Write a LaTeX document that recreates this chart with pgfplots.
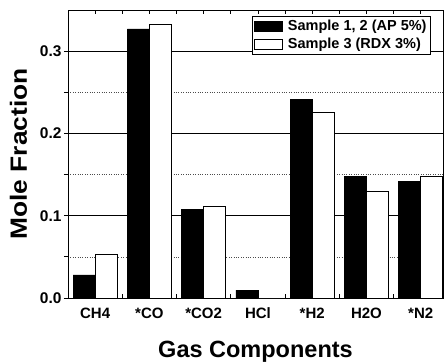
\documentclass[border=0pt]{standalone}
\usepackage{fontspec}
\setmainfont{Liberation Sans}
\usepackage{graphicx}
\usepackage{pgfplots}
\pgfplotsset{compat=1.18}
\begin{document}
\begin{tikzpicture}
\useasboundingbox (-68pt,-64pt) rectangle (377pt,298pt);
\begin{axis}[
  scale only axis,
  width=375pt, height=288pt,
  xmin=-0.5, xmax=6.41,
  ymin=0, ymax=0.35,
  ybar=0pt, bar width=22pt,
  xtick={0,1,2,3,4,5,6},
  xticklabels={CH4,*CO,*CO2,HCl,*H2,H2O,*N2},
  minor xtick={-0.5,0.5,1.5,2.5,3.5,4.5,5.5,6.5},
  xtick pos=both,
  ytick={0,0.1,0.2,0.3},
  minor ytick={0.05,0.15,0.25},
  ytick pos=left,
  tick align=inside,
  major tick length=4pt, minor tick length=4pt,
  y tick style={xshift=-4pt},
  ymajorgrids, yminorgrids,
  major grid style={black, line width=0.6pt},
  minor grid style={black!70, dotted, line width=0.6pt},
  axis line style={line width=0.9pt},
  tick style={black, line width=0.8pt},
  /pgf/number format/assume math mode=true,
  yticklabel style={/pgf/number format/fixed, /pgf/number format/fixed zerofill, /pgf/number format/precision=1, font=\bfseries\fontsize{15.5}{17}\selectfont, xshift=-3pt},
  xticklabel style={font=\bfseries\fontsize{15}{17}\selectfont, yshift=-6pt},
  xlabel={Gas Components},
  ylabel={\scalebox{1.12}[1]{Mole Fraction}},
  xlabel style={font=\bfseries\fontsize{23.5}{26}\selectfont, yshift=-16pt},
  ylabel style={font=\bfseries\fontsize{23.5}{26}\selectfont, yshift=6pt},
  legend style={at={(0.49,0.98)}, anchor=north west, draw=black, line width=0.8pt, fill=white,
    font=\bfseries\fontsize{14.5}{17}\selectfont, inner sep=2pt, row sep=2pt,
    /tikz/every odd column/.append style={column sep=3pt}},
  legend cell align=left,
  legend image code/.code={\draw[#1, line width=0.8pt] (0pt,-5pt) rectangle (28pt,5pt);},
]
\addplot[fill=black, draw=black, line width=0.8pt] coordinates {
 (0,0.028) (1,0.327) (2,0.108) (3,0.0097) (4,0.241) (5,0.148) (6,0.142)};
\addplot[fill=white, draw=black, line width=0.8pt] coordinates {
 (0,0.053) (1,0.333) (2,0.1115) (3,0) (4,0.226) (5,0.129) (6,0.148)};
\legend{{Sample 1, 2 (AP 5\%)}, {Sample 3 (RDX 3\%)}}
\end{axis}
\end{tikzpicture}
\end{document}
